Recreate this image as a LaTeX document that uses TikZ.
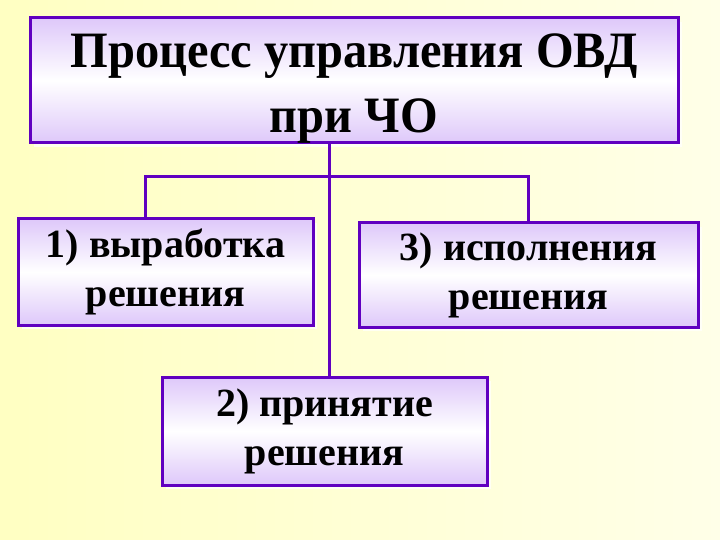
\documentclass[tikz,border=0pt]{standalone}
\usepackage{fontspec}
\usetikzlibrary{shadows}
\setmainfont{Liberation Serif}
\newfontfamily\titlefont[FakeStretch=0.95]{Liberation Serif}
\definecolor{bgL}{HTML}{FFFFC2}
\definecolor{bgR}{HTML}{FFFFE8}
\definecolor{edge}{HTML}{6000C0}
\definecolor{lav}{HTML}{DEC8FA}
\tikzset{
  block/.style={draw=edge, line width=3pt, shade, top color=lav, bottom color=lav, middle color=white,
    align=center, inner sep=0pt, font=\bfseries\fontsize{40}{49}\selectfont,
    drop shadow={fill=white, opacity=0.7, shadow xshift=4pt, shadow yshift=-4pt}},
  link/.style={draw=edge, line width=3pt},
}
\begin{document}
\begin{tikzpicture}[x=1pt,y=-1pt]
\shade[left color=bgL, right color=bgR] (0,0) rectangle (720,540);
\useasboundingbox (0,0) rectangle (720,540);
\coordinate (j) at (329,177);
\coordinate (l) at (145,177);
\coordinate (r) at (528,177);
\node[block, minimum width=648pt, minimum height=125pt] (title) at (354,80.5) {};
\node[align=center, inner sep=0pt, yshift=-8pt, font=\titlefont\bfseries\fontsize{51}{65}\selectfont] (titletext) at (title.center) {Процесс управления ОВД\\при ЧО};
\node[block, minimum width=295pt, minimum height=106pt] (b1) at (165.5,272) {1) выработка\\решения};
\node[block, minimum width=339pt, minimum height=104pt] (b3) at (528.5,275) {3) исполнения\\решения};
\node[block, minimum width=325pt, minimum height=108pt] (b2) at (324.5,431) {2) принятие\\решения};
\draw[link] (title.south -| j) -- (b2.north -| j);
\draw[link] (l |- b1.north) -- (l) -- (r) -- (r |- b3.north);
\end{tikzpicture}
\end{document}
